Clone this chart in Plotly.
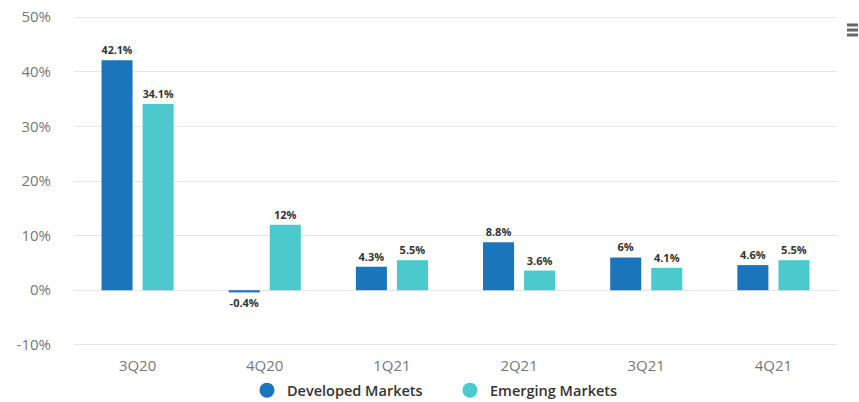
import plotly.graph_objects as go

categories = ["3Q20", "4Q20", "1Q21", "2Q21", "3Q21", "4Q21"]
developed = [42.1, -0.4, 4.3, 8.8, 6, 4.6]
emerging = [34.1, 12, 5.5, 3.6, 4.1, 5.5]
series_names = ["Developed Markets", "Emerging Markets"]
colors = ["#1b75bb", "#4cc9cd"]
y_ticks = [-10, 0, 10, 20, 30, 40, 50]
y_tick_labels = ["-10%", "0%", "10%", "20%", "30%", "40%", "50%"]

fig = go.Figure()
for name, vals, col in zip(series_names, [developed, emerging], colors):
    fig.add_trace(go.Bar(
        x=categories, y=vals, name=name, marker_color=col,
        marker_line_width=0,
        text=[f"{v}%" for v in vals], texttemplate="%{text}",
        textposition="outside", cliponaxis=False,
        textfont=dict(family="Open Sans", size=11, color="#333333", weight="bold"),
        showlegend=False, hoverinfo="skip",
    ))
    fig.add_trace(go.Scatter(
        x=[None], y=[None], mode="markers", name=name,
        marker=dict(symbol="circle", size=15, color=col),
    ))

fig.update_layout(
    width=859, height=402,
    margin=dict(l=74, r=22, t=15, b=55, autoexpand=False),
    plot_bgcolor="white", paper_bgcolor="white",
    barmode="group", bargap=0.354, bargroupgap=0.244,
    font=dict(family="Open Sans", color="#666666"),
    xaxis=dict(showgrid=False, showline=False, ticks="", automargin=False,
               tickfont=dict(size=15, color="#777777"), ticklabelstandoff=8),
    yaxis=dict(range=[-10.4, 50.4], tickvals=y_ticks, ticktext=y_tick_labels,
               automargin=False, ticklabeloverflow="allow",
               showgrid=True, gridcolor="#e6e6e6", gridwidth=1,
               zeroline=True, zerolinecolor="#e6e6e6", zerolinewidth=1,
               tickfont=dict(size=15, color="#777777"), ticklabelstandoff=22),
    legend=dict(orientation="h", x=0.2267, xanchor="left", y=-0.082, yanchor="top",
                font=dict(size=14.5, color="#333333", weight=600),
                itemwidth=30, tracegroupgap=0,
                entrywidth=158, entrywidthmode="pixels"),
    showlegend=True,
)
# export-menu icon (three short bars) at the top right
for fy in (0.9699, 0.9548, 0.9398):
    fig.add_shape(type="line", xref="paper", yref="paper",
                  x0=1.0131, x1=1.0275, y0=fy, y1=fy,
                  line=dict(color="#666666", width=3))

fig.write_html(
    "out.html",
    config={"displayModeBar": False},
    post_script="document.body.style.margin='0';document.body.style.overflow='hidden';",
)
